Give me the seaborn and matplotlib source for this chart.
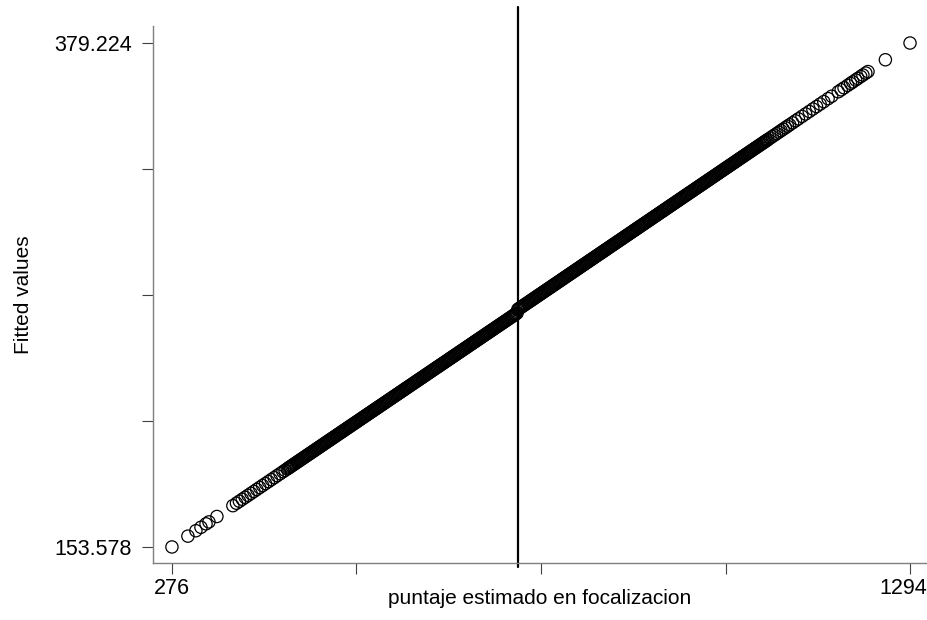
import pandas as pd
import matplotlib
matplotlib.use("Agg")
import matplotlib.pyplot as plt
import matplotlib.transforms as mtransforms
import seaborn as sns

# puntaje estimado (x) and fitted values (y)
score_low = [276, 298, 309, 316, 323, 327, 338, 360, 365, 369, 373, 377, 381, 385,
             389, 393, 397, 401, 405, 409, 413, 417, 421, 425, 429]
fitted_low = [153.578, 158.42, 160.84, 162.38, 163.92, 164.80, 167.22, 172.06, 173.16,
              174.04, 174.92, 175.80, 176.68, 177.56, 178.44, 179.32, 180.20, 181.08,
              181.96, 182.84, 183.72, 184.60, 185.48, 186.36, 187.24]

score_left = [432, 435, 438, 441, 444, 447, 450, 453, 456, 459, 462, 465, 468, 471, 474,
              477, 480, 483, 486, 489, 492, 495, 498, 501, 504, 507, 510, 513, 516, 519,
              522, 525, 528, 531, 534, 537, 540, 543, 546, 549, 552, 555, 558, 561, 564,
              567, 570, 573, 576, 579, 582, 585, 588, 591, 594, 597, 600, 603, 606, 609,
              612, 615, 618, 621, 624, 627, 630, 633, 636, 639, 642, 645, 648, 651, 654,
              657, 660, 663, 666, 669, 672, 675, 678, 681, 684, 687, 690, 693, 696, 699,
              702, 705, 708, 711, 714, 717, 720, 723, 726, 729, 732, 735, 738, 741, 744,
              747, 750, 752]
fitted_left = [187.90, 188.56, 189.22, 189.88, 190.54, 191.20, 191.86, 192.52, 193.18,
               193.84, 194.50, 195.16, 195.82, 196.48, 197.14, 197.80, 198.46, 199.12,
               199.78, 200.44, 201.10, 201.76, 202.42, 203.08, 203.74, 204.40, 205.06,
               205.72, 206.38, 207.04, 207.70, 208.36, 209.02, 209.68, 210.34, 211.00,
               211.66, 212.32, 212.98, 213.64, 214.30, 214.96, 215.62, 216.28, 216.94,
               217.60, 218.26, 218.92, 219.58, 220.24, 220.90, 221.56, 222.22, 222.88,
               223.54, 224.20, 224.86, 225.52, 226.18, 226.84, 227.50, 228.16, 228.82,
               229.48, 230.14, 230.80, 231.46, 232.12, 232.78, 233.44, 234.10, 234.76,
               235.42, 236.08, 236.74, 237.40, 238.06, 238.72, 239.38, 240.04, 240.70,
               241.36, 242.02, 242.68, 243.34, 244.00, 244.66, 245.32, 245.98, 246.64,
               247.30, 247.96, 248.62, 249.28, 249.94, 250.60, 251.26, 251.92, 252.58,
               253.24, 253.90, 254.56, 255.22, 255.88, 256.54, 257.20, 257.86, 258.30]

score_left_b = [436.5, 439.5, 442.5, 445.5, 448.5, 451.5, 454.5, 457.5, 460.5, 463.5,
                466.5, 469.5, 472.5, 475.5, 478.5, 481.5, 484.5, 487.5, 490.5, 493.5,
                496.5, 499.5, 502.5, 505.5, 508.5, 511.5, 514.5, 517.5, 520.5, 523.5,
                526.5, 529.5, 532.5, 535.5, 538.5, 541.5, 544.5, 547.5, 550.5, 553.5,
                556.5, 559.5, 562.5, 565.5, 568.5, 571.5, 574.5, 577.5, 580.5, 583.5,
                586.5, 589.5, 592.5, 595.5, 598.5, 601.5, 604.5, 607.5, 610.5, 613.5,
                616.5, 619.5, 622.5, 625.5, 628.5, 631.5, 634.5, 637.5, 640.5, 643.5,
                646.5, 649.5, 652.5, 655.5, 658.5, 661.5, 664.5, 667.5, 670.5, 673.5,
                676.5, 679.5, 682.5, 685.5, 688.5, 691.5, 694.5, 697.5, 700.5, 703.5,
                706.5, 709.5, 712.5, 715.5, 718.5, 721.5, 724.5, 727.5, 730.5, 733.5,
                736.5, 739.5, 742.5, 745.5, 748.5]
fitted_left_b = [188.89, 189.55, 190.21, 190.87, 191.53, 192.19, 192.85, 193.51, 194.17, 194.83,
                 195.49, 196.15, 196.81, 197.47, 198.13, 198.79, 199.45, 200.11, 200.77, 201.43,
                 202.09, 202.75, 203.41, 204.07, 204.73, 205.39, 206.05, 206.71, 207.37, 208.03,
                 208.69, 209.35, 210.01, 210.67, 211.33, 211.99, 212.65, 213.31, 213.97, 214.63,
                 215.29, 215.95, 216.61, 217.27, 217.93, 218.59, 219.25, 219.91, 220.57, 221.23,
                 221.89, 222.55, 223.21, 223.87, 224.53, 225.19, 225.85, 226.51, 227.17, 227.83,
                 228.49, 229.15, 229.81, 230.47, 231.13, 231.79, 232.45, 233.11, 233.77, 234.43,
                 235.09, 235.75, 236.41, 237.07, 237.73, 238.39, 239.05, 239.71, 240.37, 241.03,
                 241.69, 242.35, 243.01, 243.67, 244.33, 244.99, 245.65, 246.31, 246.97, 247.63,
                 248.29, 248.95, 249.61, 250.27, 250.93, 251.59, 252.25, 252.91, 253.57, 254.23,
                 254.89, 255.55, 256.21, 256.87, 257.53]

score_right = [753, 756, 759, 762, 765, 768, 771, 774, 777, 780, 783, 786, 789, 792, 795,
               798, 801, 804, 807, 810, 813, 816, 819, 822, 825, 828, 831, 834, 837, 840,
               843, 846, 849, 852, 855, 858, 861, 864, 867, 870, 873, 876, 879, 882, 885,
               888, 891, 894, 897, 900, 903, 906, 909, 912, 915, 918, 921, 924, 927, 930,
               933, 936, 939, 942, 945, 948, 951, 954, 957, 960, 963, 966, 969, 972, 975,
               978, 981, 984, 987, 990, 993, 996, 999, 1002, 1005, 1008, 1011, 1014, 1017,
               1020, 1023, 1026, 1029, 1032, 1035, 1038, 1041, 1044, 1047, 1050, 1053,
               1056, 1059, 1062, 1065, 1068, 1071, 1074, 1077, 1080, 1083, 1086, 1089,
               1092, 1095, 1098, 1101, 1104, 1107, 1110, 1113, 1116, 1119, 1122, 1125, 1128]
fitted_right = [259.93, 260.60, 261.26, 261.92, 262.58, 263.24, 263.90, 264.56, 265.23,
                265.89, 266.55, 267.21, 267.87, 268.53, 269.19, 269.86, 270.52, 271.18,
                271.84, 272.50, 273.16, 273.83, 274.49, 275.15, 275.81, 276.47, 277.13,
                277.79, 278.46, 279.12, 279.78, 280.44, 281.10, 281.76, 282.42, 283.09,
                283.75, 284.41, 285.07, 285.73, 286.39, 287.06, 287.72, 288.38, 289.04,
                289.70, 290.36, 291.02, 291.69, 292.35, 293.01, 293.67, 294.33, 294.99,
                295.65, 296.32, 296.98, 297.64, 298.30, 298.96, 299.62, 300.29, 300.95,
                301.61, 302.27, 302.93, 303.59, 304.25, 304.92, 305.58, 306.24, 306.90,
                307.56, 308.22, 308.88, 309.55, 310.21, 310.87, 311.53, 312.19, 312.85,
                313.52, 314.18, 314.84, 315.50, 316.16, 316.82, 317.48, 318.15, 318.81,
                319.47, 320.13, 320.79, 321.45, 322.11, 322.78, 323.44, 324.10, 324.76,
                325.42, 326.08, 326.75, 327.41, 328.07, 328.73, 329.39, 330.05, 330.71,
                331.38, 332.04, 332.70, 333.36, 334.02, 334.68, 335.34, 336.01, 336.67,
                337.33, 337.99, 338.65, 339.31, 339.98, 340.64, 341.30, 341.96, 342.62]

score_right_b = [754.5, 757.5, 760.5, 763.5, 766.5, 769.5, 772.5, 775.5, 778.5, 781.5,
                 784.5, 787.5, 790.5, 793.5, 796.5, 799.5, 802.5, 805.5, 808.5, 811.5,
                 814.5, 817.5, 820.5, 823.5, 826.5, 829.5, 832.5, 835.5, 838.5, 841.5,
                 844.5, 847.5, 850.5, 853.5, 856.5, 859.5, 862.5, 865.5, 868.5, 871.5,
                 874.5, 877.5, 880.5, 883.5, 886.5, 889.5, 892.5, 895.5, 898.5, 901.5,
                 904.5, 907.5, 910.5, 913.5, 916.5, 919.5, 922.5, 925.5, 928.5, 931.5,
                 934.5, 937.5, 940.5, 943.5, 946.5, 949.5, 952.5, 955.5, 958.5, 961.5,
                 964.5, 967.5, 970.5, 973.5, 976.5, 979.5, 982.5, 985.5, 988.5, 991.5,
                 994.5, 997.5, 1000.5, 1003.5, 1006.5, 1009.5, 1012.5, 1015.5, 1018.5, 1021.5,
                 1024.5, 1027.5, 1030.5, 1033.5, 1036.5, 1039.5, 1042.5, 1045.5, 1048.5, 1051.5,
                 1054.5, 1057.5, 1060.5, 1063.5, 1066.5, 1069.5, 1072.5, 1075.5, 1078.5, 1081.5,
                 1084.5, 1087.5, 1090.5, 1093.5, 1096.5]
fitted_right_b = [260.26, 260.93, 261.59, 262.25, 262.91, 263.57, 264.23, 264.89, 265.56, 266.22,
                  266.88, 267.54, 268.20, 268.86, 269.53, 270.19, 270.85, 271.51, 272.17, 272.83,
                  273.49, 274.16, 274.82, 275.48, 276.14, 276.80, 277.46, 278.12, 278.79, 279.45,
                  280.11, 280.77, 281.43, 282.09, 282.76, 283.42, 284.08, 284.74, 285.40, 286.06,
                  286.72, 287.39, 288.05, 288.71, 289.37, 290.03, 290.69, 291.35, 292.02, 292.68,
                  293.34, 294.00, 294.66, 295.32, 295.99, 296.65, 297.31, 297.97, 298.63, 299.29,
                  299.95, 300.62, 301.28, 301.94, 302.60, 303.26, 303.92, 304.58, 305.25, 305.91,
                  306.57, 307.23, 307.89, 308.55, 309.22, 309.88, 310.54, 311.20, 311.86, 312.52,
                  313.18, 313.85, 314.51, 315.17, 315.83, 316.49, 317.15, 317.81, 318.48, 319.14,
                  319.80, 320.46, 321.12, 321.78, 322.45, 323.11, 323.77, 324.43, 325.09, 325.75,
                  326.41, 327.08, 327.74, 328.40, 329.06, 329.72, 330.38, 331.04, 331.71, 332.37,
                  333.03, 333.69, 334.35, 335.01, 335.68]

score_high = [1132, 1136, 1140, 1145, 1150, 1155, 1160, 1165, 1170, 1175, 1181, 1186,
              1195, 1199, 1203, 1208, 1212, 1215, 1219, 1222, 1226, 1229, 1233, 1236,
              1260, 1294]
fitted_high = [343.50, 344.39, 345.27, 346.37, 347.47, 348.57, 349.68, 350.78, 351.88,
               352.98, 354.31, 355.41, 357.39, 358.28, 359.16, 360.26, 361.14, 361.80,
               362.69, 363.35, 364.23, 364.89, 365.77, 366.44, 371.73, 379.224]

cutoff = 753

x_ticks = [276, 530.5, 785, 1039.5, 1294]
x_ticklabels = ["276", "", "", "", "1294"]
y_ticks = [153.578, 209.9895, 266.401, 322.8125, 379.224]
y_ticklabels = ["153.578", "", "", "", "379.224"]

df = pd.DataFrame({
    "score": score_low + score_left + score_left_b + score_right + score_right_b + score_high,
    "fitted": fitted_low + fitted_left + fitted_left_b + fitted_right + fitted_right_b + fitted_high,
})
df = df.sort_values("score")

sns.set_style("ticks")
plt.rcParams["font.family"] = ["Liberation Sans", "DejaVu Sans"]
plt.rcParams["text.color"] = "black"
plt.rcParams["axes.labelcolor"] = "black"

fig = plt.figure(figsize=(9.27, 6.2), dpi=100)
ax = fig.add_axes([0.165, 0.092, 0.835, 0.866])

sns.scatterplot(data=df, x="score", y="fitted", ax=ax, marker="o", s=78,
                facecolor="none", edgecolor="black", linewidth=0.9)

ax.axvline(cutoff, ymin=-0.0075, ymax=1.035, color="black", lw=1.6, clip_on=False)

ax.set_xlim(249.8, 1317.4)
ax.set_ylim(146.41, 386.83)
ax.set_xticks(x_ticks)
ax.set_xticklabels(x_ticklabels)
ax.set_yticks(y_ticks)
ax.set_yticklabels(y_ticklabels)

ax.tick_params(axis="x", bottom=True, length=8, width=0.8, color="#404040",
               labelcolor="black", pad=3, labelsize=15.5)
ax.tick_params(axis="y", left=True, length=8, width=0.8, color="#404040",
               labelcolor="black", pad=7, labelsize=15.5)

# keep the last x label inside the figure, as in the original
last = ax.get_xticklabels()[-1]
last.set_transform(last.get_transform() +
                   mtransforms.ScaledTranslation(-5 / 72, 0, fig.dpi_scale_trans))

for side in ["top", "right"]:
    ax.spines[side].set_visible(False)
for side in ["left", "bottom"]:
    ax.spines[side].set_color("#7f7f7f")
    ax.spines[side].set_linewidth(1.0)

ax.set_xlabel("puntaje estimado en focalizacion", fontsize=15)
ax.set_ylabel("Fitted values", fontsize=15)
ax.xaxis.set_label_coords(0.5, -0.048)
ax.yaxis.set_label_coords(-0.155, 0.5)

fig.savefig("out.png", dpi=100)
